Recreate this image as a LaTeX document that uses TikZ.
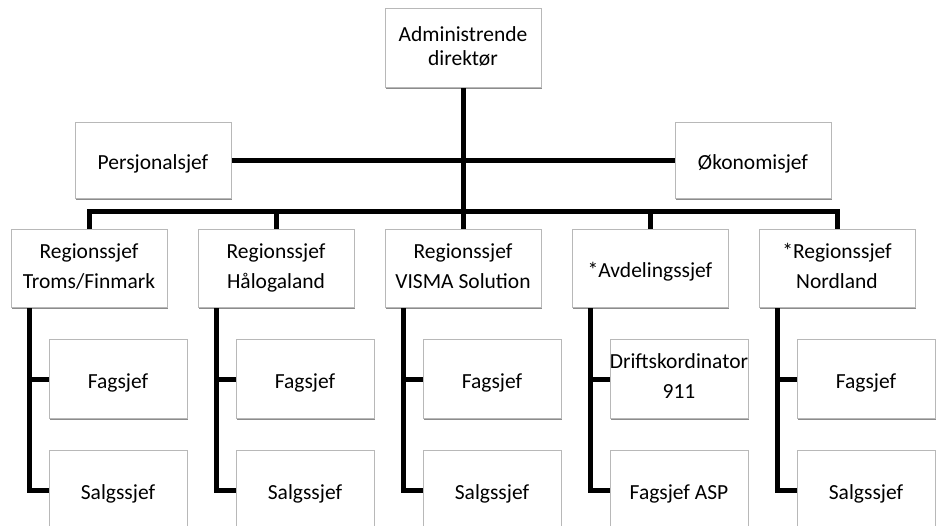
\documentclass[tikz,border=0pt]{standalone}
\usepackage{fontspec}
\setmainfont{Carlito}
\usetikzlibrary{positioning,shadows}
\newcommand\boxstrut{\rule[-0.2\baselineskip]{0pt}{\baselineskip}}

\begin{document}
\begin{tikzpicture}[x=1pt, y=1pt, node distance=187pt, auto]
\tikzstyle{box} = [draw=black!28, line width=1pt, fill=white, rectangle, minimum height=78pt, minimum width=156pt, align=center, inner sep=2pt, font=\fontsize{21.5}{30}\selectfont, execute at begin node=\boxstrut, execute at end node=\boxstrut, drop shadow={shadow xshift=1.2pt, shadow yshift=-1.2pt, fill=black!45, opacity=1}]
\tikzstyle{subbox} = [box, minimum width=138pt, minimum height=79pt]
\tikzstyle{line} = [draw, line width=5pt]

\useasboundingbox (0,0) rectangle (940,525);

% top level
\node [box, minimum height=79pt, font=\fontsize{21.5}{23.5}\selectfont] (dir) at (463,476.5) {Administrende\\direktør};
\node [box, minimum height=76pt] (pers) at (153,364) {Persjonalsjef};
\node [box, minimum height=76pt] (oko) at (753,364) {Økonomisjef};
\coordinate (bus) at (463,313);

% regions
\node [box, below=141pt of dir] (r3) {Regionssjef\\VISMA Solution};
\node [box, left of=r3] (r2) {Regionssjef\\Hålogaland};
\node [box, left of=r2] (r1) {Regionssjef\\Troms/Finmark};
\node [box, right of=r3] (r4) {*Avdelingssjef};
\node [box, right of=r4] (r5) {*Regionssjef\\Nordland};

% under regions
\node [subbox, below=31pt of r1, xshift=29pt] (f1) {Fagsjef};
\node [subbox, below=31pt of f1] (s1) {Salgssjef};
\node [subbox, below=31pt of r2, xshift=29pt] (f2) {Fagsjef};
\node [subbox, below=31pt of f2] (s2) {Salgssjef};
\node [subbox, below=31pt of r3, xshift=29pt] (f3) {Fagsjef};
\node [subbox, below=31pt of f3] (s3) {Salgssjef};
\node [subbox, below=31pt of r4, xshift=29pt] (f4) {\makebox[130pt]{Driftskordinator}\\911};
\node [subbox, below=31pt of f4] (s4) {Fagsjef ASP};
\node [subbox, below=31pt of r5, xshift=29pt] (f5) {Fagsjef};
\node [subbox, below=31pt of f5] (s5) {Salgssjef};

\path [line] (pers) -- (oko);
\path [line] (dir) -- (bus);
\foreach \r in {r1,r2,r3,r4,r5}
  \path [line] (bus) -| (\r.north);

\foreach \i in {1,...,5} {
  \path [line] ([xshift=-60pt]r\i.south) |- (f\i.west);
  \path [line] ([xshift=-60pt]r\i.south) |- (s\i.west);
}

\end{tikzpicture}
\end{document}
